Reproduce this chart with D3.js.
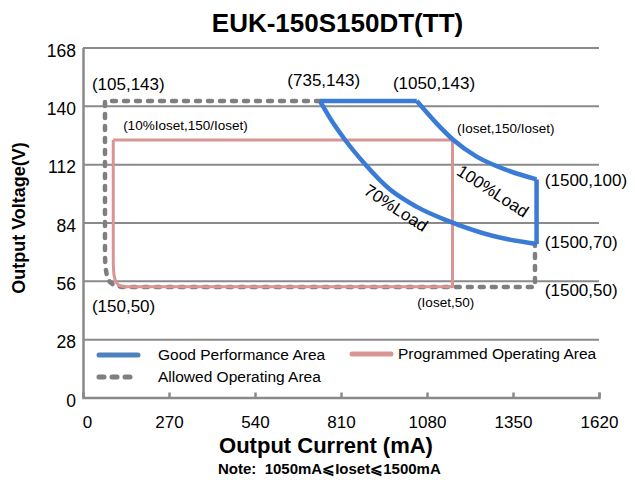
<!DOCTYPE html>
<html>
<head>
<meta charset="utf-8">
<script src="https://cdn.jsdelivr.net/npm/d3@7"></script>
<style>
  body { margin: 0; background: #fff; }
  svg { display: block; font-family: "Liberation Sans", Arial, sans-serif; }
</style>
</head>
<body>
<svg id="chart" width="635" height="480"></svg>
<script>
// tick values
const xTicks = [0, 270, 540, 810, 1080, 1350, 1620];
const yTicks = [0, 28, 56, 84, 112, 140, 168];

// Good Performance Area (blue) [mA, V]
const goodTop = [[744, 142.3], [1048, 142.3]];
const load100 = [[1048, 142.3], [1110, 131.6], [1163, 123.6], [1236, 115.6], [1330, 109.2], [1424, 104.7]];
const goodRight = [[1424, 104.7], [1424, 73.7]];
const load70 = [[744, 142.3], [786, 131.6], [823, 123.6], [885, 112.1], [964, 99.8], [1048, 91.5], [1142, 85], [1288, 77.5], [1424, 73.7]];

// Programmed Operating Area (pink)
const programmed = [[95, 123.6], [1160, 123.6], [1160, 53.2], [126, 53.2], [112, 53.9], [102, 55.8], [97, 59], [95, 64], [95, 123.6]];

// Allowed Operating Area (grey dashed)
const allowed = [[744, 142.3], [69, 142.3], [69, 68], [70.5, 62.5], [75, 58.5], [84, 55.5], [98, 53.8], [120, 53.1], [1419, 53.1], [1419, 73.7]];

// annotation texts [mA, V, text, anchor, size]
const notes = [
  [28, 147.6, "(105,143)", "start", 17],
  [870, 149.5, "(735,143)", "end", 17],
  [973, 148.1, "(1050,143)", "start", 17],
  [126, 128.4, "(10%Ioset,150/Ioset)", "start", 13.5],
  [1174, 127, "(Ioset,150/Ioset)", "start", 13.5],
  [1450, 101.5, "(1500,100)", "start", 17],
  [1450, 71.8, "(1500,70)", "start", 17],
  [1450, 48.7, "(1500,50)", "start", 17],
  [1049, 43.4, "(Ioset,50)", "start", 13.5],
  [28, 41, "(150,50)", "start", 17]
];
const loadLabels = [[983, 91, "70%Load"], [1287, 99.1, "100%Load"]];

const legendItems = ["Good Performance Area", "Allowed Operating Area", "Programmed Operating Area"];

const blue = "#3a7bd5", pink = "#d99594", grey = "#7f7f7f", gridCol = "#8a8a8a";

const svg = d3.select("#chart");
const x = d3.scaleLinear().domain([0, 1620]).range([83, 599]);
const y = d3.scaleLinear().domain([0, 168]).range([397.5, 47.5]);

// title
svg.append("text").attr("x", 337.5).attr("y", 32).attr("text-anchor", "middle")
  .attr("font-size", 26).attr("font-weight", "bold").text("EUK-150S150DT(TT)");

// y axis + grid
const yAxis = svg.append("g").attr("transform", "translate(83,0)")
  .call(d3.axisLeft(y).tickValues(yTicks).tickSize(-516).tickSizeOuter(0).tickPadding(7));
yAxis.selectAll("line").attr("stroke", gridCol).attr("stroke-width", 2);
yAxis.select(".domain").attr("stroke", gridCol).attr("stroke-width", 2.5);
yAxis.selectAll("text").attr("font-size", 17.5).attr("fill", "#000").attr("dy", "0.5em")
  .attr("font-family", "Liberation Sans, Arial");

// x axis
const xAxis = svg.append("g").attr("transform", "translate(0,397.5)")
  .call(d3.axisBottom(x).tickValues(xTicks).tickFormat(d3.format("d")).tickSize(-5).tickPadding(18));
xAxis.selectAll("line").attr("stroke", gridCol).attr("stroke-width", 2.5);
xAxis.select(".domain").attr("stroke", gridCol).attr("stroke-width", 2.5);
xAxis.selectAll("text").attr("font-size", 17).attr("fill", "#000")
  .attr("font-family", "Liberation Sans, Arial")
  .attr("dx", d => d === 0 ? 4 : 0);

// axis titles
svg.append("text").attr("transform", "translate(25,218) rotate(-90)").attr("text-anchor", "middle")
  .attr("font-size", 18).attr("font-weight", "bold").text("Output Voltage(V)");
svg.append("text").attr("x", 326).attr("y", 453).attr("text-anchor", "middle")
  .attr("font-size", 22).attr("font-weight", "bold").text("Output Current (mA)");
svg.append("text").attr("x", 218).attr("y", 474)
  .attr("font-size", 15).attr("font-weight", "bold").text("Note:\u00A0\u00A01050mA\u2A7DIoset\u2A7D1500mA");

const straight = d3.line().x(d => x(d[0])).y(d => y(d[1]));
const smooth = d3.line().x(d => x(d[0])).y(d => y(d[1])).curve(d3.curveMonotoneX);

// allowed area (dashed)
svg.append("path").attr("d", straight(allowed))
  .attr("fill", "none").attr("stroke", grey).attr("stroke-width", 4.5)
  .attr("stroke-dasharray", "4,8").attr("stroke-linecap", "round").attr("stroke-linejoin", "round");

// programmed area
svg.append("path").attr("d", straight(programmed))
  .attr("fill", "none").attr("stroke", pink).attr("stroke-width", 3)
  .attr("stroke-linejoin", "round");

// good performance area
const goodG = svg.append("g").attr("fill", "none").attr("stroke", blue).attr("stroke-width", 4.5)
  .attr("stroke-linejoin", "round");
goodG.append("path").attr("d", straight(goodTop));
goodG.append("path").attr("d", smooth(load100));
goodG.append("path").attr("d", straight(goodRight));
goodG.append("path").attr("d", smooth(load70));

// annotations
svg.selectAll(".note").data(notes).join("text").attr("class", "note")
  .attr("x", d => x(d[0])).attr("y", d => y(d[1]))
  .attr("text-anchor", d => d[3]).attr("font-size", d => d[4]).text(d => d[2]);

svg.selectAll(".load").data(loadLabels).join("text").attr("class", "load")
  .attr("transform", d => `translate(${x(d[0])},${y(d[1])}) rotate(33)`)
  .attr("text-anchor", "middle").attr("dy", "0.35em").attr("font-size", 17).text(d => d[2]);

// legend
const legend = svg.append("g").attr("font-size", 15.5);
const legPos = [[97, 355], [97, 377], [350, 354]];
const legStyle = [
  { stroke: "#4f81bd", dash: null },
  { stroke: grey, dash: "5,8" },
  { stroke: pink, dash: null }
];
legendItems.forEach((name, i) => {
  const [lx, ly] = legPos[i];
  legend.append("line").attr("x1", lx + 2).attr("x2", lx + 41).attr("y1", ly).attr("y2", ly)
    .attr("stroke", legStyle[i].stroke).attr("stroke-width", 5).attr("stroke-linecap", "round")
    .attr("stroke-dasharray", legStyle[i].dash);
  legend.append("text").attr("x", lx + 61 - (i === 2 ? 13 : 0)).attr("y", ly).attr("dy", "0.35em").text(name);
});
</script>
</body>
</html>
